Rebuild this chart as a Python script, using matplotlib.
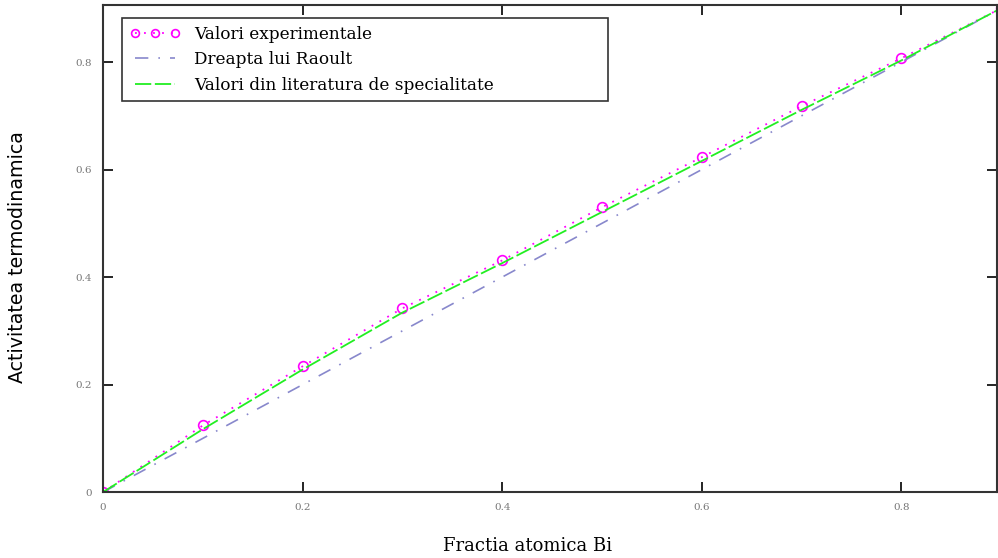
import numpy as np
import matplotlib.pyplot as plt

plt.rcParams['font.family'] = ['DejaVu Serif', 'Liberation Serif']

# fractia atomica Bi
x = [0.0, 0.1, 0.2, 0.3, 0.4, 0.5, 0.6, 0.7, 0.8, 0.9]
# valori experimentale
a_exp = [0.0, 0.124, 0.234, 0.342, 0.431, 0.530, 0.623, 0.718, 0.807, 0.900]
# dreapta lui Raoult (a = x)
a_raoult = [0.0, 0.1, 0.2, 0.3, 0.4, 0.5, 0.6, 0.7, 0.8, 0.9]
# valori din literatura
a_lit = [0.0, 0.117, 0.228, 0.334, 0.426, 0.521, 0.616, 0.711, 0.803, 0.900]

xticks = [0, 0.2, 0.4, 0.6, 0.8]
yticks = [0, 0.2, 0.4, 0.6, 0.8]

fig = plt.figure(figsize=(9.98, 5.58), dpi=100)
ax = fig.add_axes([0.1032, 0.118, 0.896, 0.873])

ax.plot(x, a_exp, color='#ff00ff', linestyle=(0, (1, 4)), linewidth=1.3,
        marker='o', markersize=7, markerfacecolor='none', markeredgewidth=1.2,
        label='Valori experimentale')
ax.plot(x, a_raoult, color='#8888cc', linestyle=(0, (8, 6, 1, 6)), linewidth=1.2,
        label='Dreapta lui Raoult')
ax.plot(x, a_lit, color='#22ee22', linestyle=(0, (9, 2)), linewidth=1.3,
        label='Valori din literatura de specialitate')

ax.set_xlim(0, 0.896)
ax.set_ylim(0, 0.906)
ax.set_xticks(xticks)
ax.set_yticks(yticks)
ax.set_xticklabels(['0', '0.2', '0.4', '0.6', '0.8'])
ax.set_yticklabels(['0', '0.2', '0.4', '0.6', '0.8'])
ax.tick_params(direction='in', length=7, width=1.2, top=True, right=True,
               labelsize=7.5, labelcolor='#777777', pad=8)
for s in ax.spines.values():
    s.set_linewidth(1.5)
    s.set_color('#333333')

fig.text(0.529, 0.021, 'Fractia atomica Bi', fontsize=13, ha='center', va='center')
fig.text(0.018, 0.54, 'Activitatea termodinamica', fontsize=13.7, rotation=90,
         ha='center', va='center', family=['DejaVu Sans'])

leg = ax.legend(loc='upper left', bbox_to_anchor=(0.0213, 0.811, 0.5436, 0.162),
                mode='expand', fontsize=12.2, frameon=True, fancybox=False,
                edgecolor='black', borderpad=0.45, labelspacing=0.5,
                handlelength=3, borderaxespad=0, numpoints=3,
                markerscale=0.8)
leg.get_frame().set_linewidth(1.2)

fig.savefig('out.png', dpi=100)
